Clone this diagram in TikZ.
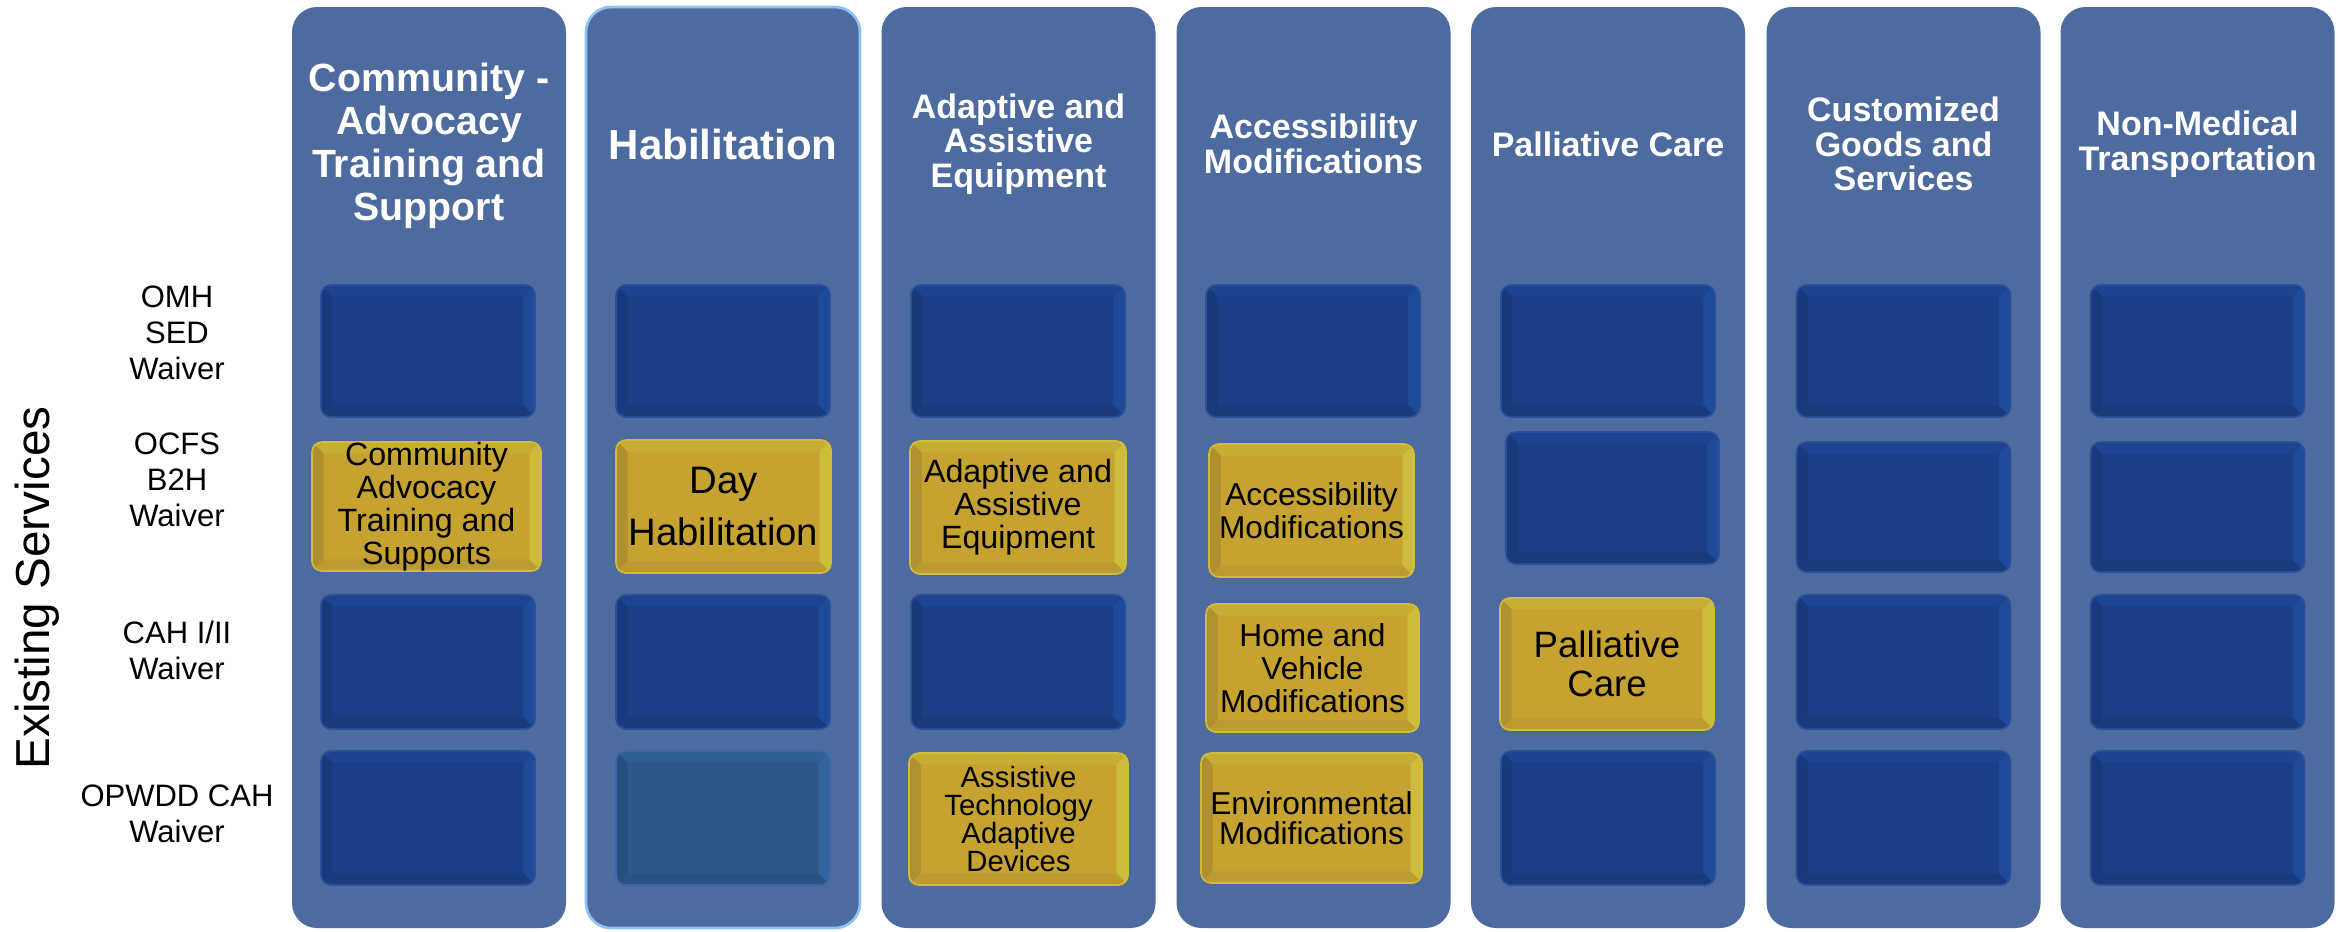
\documentclass[tikz,border=0pt]{standalone}
\usepackage{fontspec}
\setmainfont{Liberation Sans}
\usetikzlibrary{calc}
\definecolor{colbg}{HTML}{4E6BA0}
\definecolor{habline}{HTML}{8DC4F2}
% dark blue box
\definecolor{dkc}{HTML}{1B3F86}
\definecolor{dkt}{HTML}{1D4490}
\definecolor{dkr}{HTML}{1F4A9A}
\definecolor{dkl}{HTML}{183A7C}
\definecolor{dkb}{HTML}{193B7E}
\definecolor{dke}{HTML}{2A509C}
% yellow box
\definecolor{ylc}{HTML}{C6A230}
\definecolor{ylt}{HTML}{C8AD34}
\definecolor{ylr}{HTML}{CCBC3A}
\definecolor{yll}{HTML}{B09030}
\definecolor{ylb}{HTML}{BC9C30}
\definecolor{yle}{HTML}{D0BC3C}
% teal box
\definecolor{tlc}{HTML}{2D5889}
\definecolor{tlt}{HTML}{315F95}
\definecolor{tlr}{HTML}{3464A0}
\definecolor{tll}{HTML}{28507F}
\definecolor{tlb}{HTML}{2A5383}
\definecolor{tle}{HTML}{3A68A6}
\tikzset{
  bevel/.style n args={6}{fill=#1, draw=#6, line width=0.5pt, rounded corners=3pt,
    inner sep=0pt, align=center, text=black,
    path picture={
      \fill[#2, sharp corners, draw=none] (path picture bounding box.north west) -- (path picture bounding box.north east)
        -- ++(-3.5pt,-3.5pt) -- ($(path picture bounding box.north west)+(3.5pt,-3.5pt)$) -- cycle;
      \fill[#3, sharp corners, draw=none] (path picture bounding box.north east) -- (path picture bounding box.south east)
        -- ++(-3.5pt,3.5pt) -- ($(path picture bounding box.north east)+(-3.5pt,-3.5pt)$) -- cycle;
      \fill[#4, sharp corners, draw=none] (path picture bounding box.north west) -- (path picture bounding box.south west)
        -- ++(3.5pt,3.5pt) -- ($(path picture bounding box.north west)+(3.5pt,-3.5pt)$) -- cycle;
      \fill[#5, sharp corners, draw=none] (path picture bounding box.south west) -- (path picture bounding box.south east)
        -- ++(-3.5pt,3.5pt) -- ($(path picture bounding box.south west)+(3.5pt,3.5pt)$) -- cycle;
    }},
  darkbox/.style={bevel={dkc}{dkt}{dkr}{dkl}{dkb}{dke}},
  yellowbox/.style={bevel={ylc}{ylt}{ylr}{yll}{ylb}{yle}},
  tealbox/.style={bevel={tlc}{tlt}{tlr}{tll}{tlb}{tle}},
  column/.style={fill=colbg, draw=none, rounded corners=7.5pt, inner sep=0pt,
    minimum width=274*0.3pt, minimum height=921*0.3pt},
  hdr/.style={text=white, align=center, inner sep=0pt, font=\bfseries\fontsize{10.2}{10.4}\selectfont},
  side/.style={text=black, align=center, inner sep=0pt, font=\fontsize{9.3}{10.8}\selectfont},
}
\newcommand\cell[7]{\node[#6, minimum width=#4*0.3pt, minimum height=#5*0.3pt] (#1) at (#2,#3) {#7};}
\begin{document}
\begin{tikzpicture}[x=0.3pt,y=-0.3pt]
\useasboundingbox (0,0) rectangle (2351,931);
\fill[white] (0,0) rectangle (2351,931);
% columns
\node[column] (colA) at (429,467.5) {};
\node[column, draw=habline, line width=0.8pt] (colB) at (723,467.5) {};
\node[column] (colC) at (1018.5,467.5) {};
\node[column] (colD) at (1313.5,467.5) {};
\node[column] (colE) at (1608,467.5) {};
\node[column] (colF) at (1903.5,467.5) {};
\node[column] (colG) at (2197.5,467.5) {};
% headers
\node[hdr, font=\bfseries\fontsize{11.8}{12.9}\selectfont] (hA) at (429,146) {Community -\\Advocacy\\Training and\\Support};
\node[hdr, font=\bfseries\fontsize{12.6}{13}\selectfont] (hB) at (723,144) {Habilitation};
\node[hdr] (hC) at (1018.5,144) {Adaptive and\\Assistive\\Equipment};
\node[hdr] (hD) at (1313.5,144) {Accessibility\\Modifications};
\node[hdr] (hE) at (1608,144) {Palliative Care};
\node[hdr] (hF) at (1903.5,144) {Customized\\Goods and\\Services};
\node[hdr] (hG) at (2197.5,144) {Non-Medical\\Transportation};
% side labels
\node[side] (lab1) at (177,333) {OMH\\SED\\Waiver};
\node[side] (lab2) at (177,480) {OCFS\\B2H\\Waiver};
\node[side] (lab3) at (177,650) {CAH I/II\\Waiver};
\node[side] (lab4) at (177,814) {OPWDD CAH\\Waiver};
\node[rotate=90, inner sep=0pt, font=\fontsize{14.3}{16}\selectfont] (exist) at (37,588) {Existing Services};
% column A
\cell{a1}{428}{351}{214}{132}{darkbox}{}
\cell{a2}{426.5}{506.5}{229}{129}{yellowbox,font=\fontsize{9.66}{9.9}\selectfont}{Community\\Advocacy\\Training and\\Supports}
\cell{a3}{428}{662}{214}{134}{darkbox}{}
\cell{a4}{428}{818}{214}{134}{darkbox}{}
% column B
\cell{b1}{723}{351}{214}{132}{darkbox}{}
\cell{b2}{723.5}{506.5}{215}{133}{yellowbox,font=\fontsize{11.5}{15.6}\selectfont}{Day\\Habilitation}
\cell{b3}{723}{662}{214}{134}{darkbox}{}
\cell{b4}{723}{818}{214}{134}{tealbox}{}
% column C
\cell{c1}{1018}{351}{214}{132}{darkbox}{}
\cell{c2}{1018}{507.5}{216}{133}{yellowbox,font=\fontsize{9.66}{9.9}\selectfont}{Adaptive and\\Assistive\\Equipment}
\cell{c3}{1018}{662}{214}{134}{darkbox}{}
\cell{c4}{1018.5}{819}{219}{132}{yellowbox,font=\fontsize{8.8}{8.4}\selectfont}{Assistive\\Technology\\Adaptive\\Devices}
% column D
\cell{d1}{1313}{351}{214}{132}{darkbox}{}
\cell{d2}{1311.5}{510.5}{205}{133}{yellowbox,font=\fontsize{9.5}{9.9}\selectfont}{Accessibility\\Modifications}
\cell{d3}{1312.5}{668}{213}{128}{yellowbox,font=\fontsize{9.5}{9.9}\selectfont}{Home and\\Vehicle\\Modifications}
\cell{d4}{1311.5}{818}{221}{130}{yellowbox,font=\fontsize{9.5}{9}\selectfont}{Environmental\\Modifications}
% column E
\cell{e1}{1608}{351}{214}{132}{darkbox}{}
\cell{e2}{1612.5}{498}{213}{132}{darkbox}{}
\cell{e3}{1607}{664}{214}{132}{yellowbox,font=\fontsize{11}{11.7}\selectfont}{Palliative\\Care}
\cell{e4}{1608}{818}{214}{134}{darkbox}{}
% column F
\cell{f1}{1903.5}{351}{214}{132}{darkbox}{}
\cell{f2}{1903.5}{507}{214}{130}{darkbox}{}
\cell{f3}{1903.5}{662}{214}{134}{darkbox}{}
\cell{f4}{1903.5}{818}{214}{134}{darkbox}{}
% column G
\cell{g1}{2197.5}{351}{214}{132}{darkbox}{}
\cell{g2}{2197.5}{507}{214}{130}{darkbox}{}
\cell{g3}{2197.5}{662}{214}{134}{darkbox}{}
\cell{g4}{2197.5}{818}{214}{134}{darkbox}{}
\end{tikzpicture}
\end{document}
